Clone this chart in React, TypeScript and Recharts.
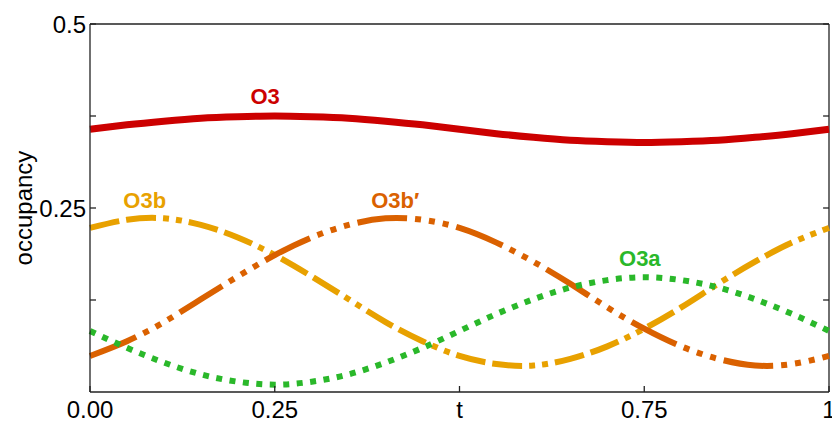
import { LineChart, Line, XAxis, YAxis, ReferenceDot, ReferenceLine } from 'recharts'

const T = [0, 0.05, 0.1, 0.15, 0.2, 0.25, 0.3, 0.35, 0.4, 0.45, 0.5, 0.55, 0.6, 0.65, 0.7, 0.75, 0.8, 0.85, 0.9, 0.95, 1]
const O3 = [0.357, 0.363, 0.368, 0.372, 0.374, 0.375, 0.374, 0.372, 0.368, 0.363, 0.357, 0.351, 0.346, 0.342, 0.34, 0.339, 0.34, 0.342, 0.346, 0.351, 0.357]
const O3B = [0.223, 0.234, 0.236, 0.227, 0.21, 0.186, 0.157, 0.126, 0.095, 0.069, 0.049, 0.038, 0.036, 0.045, 0.062, 0.086, 0.115, 0.147, 0.177, 0.203, 0.223]
const O3B_PRIME = [0.049, 0.069, 0.095, 0.126, 0.157, 0.186, 0.21, 0.227, 0.236, 0.234, 0.223, 0.203, 0.177, 0.147, 0.115, 0.086, 0.062, 0.045, 0.036, 0.038, 0.049]
const O3A = [0.083, 0.06, 0.04, 0.024, 0.014, 0.01, 0.014, 0.024, 0.04, 0.06, 0.083, 0.106, 0.126, 0.142, 0.152, 0.156, 0.152, 0.142, 0.126, 0.106, 0.083]

const X_TICKS = [0, 0.25, 0.5, 0.75, 1]
const X_TICK_LABELS = ['0.00', '0.25', 't', '0.75', '1']
const Y_TICKS = [0.125, 0.25, 0.375, 0.5]
const Y_TICK_LABELS = ['', '0.25', '', '0.5']

const data = T.map((t, i) => ({ t, o3: O3[i], o3b: O3B[i], o3bp: O3B_PRIME[i], o3a: O3A[i] }))

const FRAME = '#222'
const RED = '#cc0000'
const GOLD = '#e8a100'
const ORANGE = '#da6100'
const GREEN = '#2ab82a'

// inward tick length on the right frame, in t units (about 6px)
const RIGHT_TICK = 0.008

const tickText = { fill: '#000', fontSize: 24 }

function seriesLabel(value: string, fill: string) {
  return { value, position: 'center' as const, fill, fontSize: 22, fontWeight: 'bold' }
}

export default function App() {
  return (
    <div style={{ position: 'absolute', left: 0, top: 0, fontFamily: '"Liberation Sans", Arial, sans-serif' }}>
      <LineChart width={832} height={423} data={data} margin={{ top: 24, right: 3, left: 0, bottom: 0 }}>
        <XAxis
          dataKey="t"
          type="number"
          domain={[0, 1]}
          ticks={X_TICKS}
          tickFormatter={(v: number) => X_TICK_LABELS[X_TICKS.indexOf(v)] ?? ''}
          tick={tickText}
          tickSize={-6}
          tickMargin={15}
          height={31}
          stroke={FRAME}
          strokeWidth={1.3}
          interval={0}
        />
        <YAxis
          type="number"
          domain={[0, 0.5]}
          ticks={Y_TICKS}
          tickFormatter={(v: number) => Y_TICK_LABELS[Y_TICKS.indexOf(v)] ?? ''}
          tick={tickText}
          tickSize={-6}
          tickMargin={10}
          width={90}
          stroke={FRAME}
          strokeWidth={1.3}
          interval={0}
          label={{ value: 'occupancy', angle: -90, position: 'insideLeft', offset: 23, fill: '#000', fontSize: 24, style: { textAnchor: 'middle' } }}
        />
        {/* top and right sides of the frame */}
        <ReferenceLine y={0.5} stroke={FRAME} strokeWidth={1.3} />
        <ReferenceLine x={1} stroke={FRAME} strokeWidth={1.3} />
        {Y_TICKS.map((v) => (
          <ReferenceLine key={v} segment={[{ x: 1 - RIGHT_TICK, y: v }, { x: 1, y: v }]} stroke={FRAME} strokeWidth={1.3} />
        ))}
        <Line type="natural" dataKey="o3" stroke={RED} strokeWidth={7} dot={false} activeDot={false} isAnimationActive={false} />
        <Line type="natural" dataKey="o3b" stroke={GOLD} strokeWidth={6} strokeDasharray="30 7 30 7 6 7 6 7" dot={false} activeDot={false} isAnimationActive={false} />
        <Line type="natural" dataKey="o3bp" stroke={ORANGE} strokeWidth={6} strokeDasharray="50 8 6 8 6 8 6 8" dot={false} activeDot={false} isAnimationActive={false} />
        <Line type="natural" dataKey="o3a" stroke={GREEN} strokeWidth={6} strokeDasharray="6 7.5" dot={false} activeDot={false} isAnimationActive={false} />
        <ReferenceDot x={0.237} y={0.402} r={0} ifOverflow="visible" label={seriesLabel('O3', RED)} />
        <ReferenceDot x={0.074} y={0.261} r={0} ifOverflow="visible" label={seriesLabel('O3b', GOLD)} />
        <ReferenceDot x={0.413} y={0.261} r={0} ifOverflow="visible" label={seriesLabel('O3b′', ORANGE)} />
        <ReferenceDot x={0.744} y={0.182} r={0} ifOverflow="visible" label={seriesLabel('O3a', GREEN)} />
      </LineChart>
    </div>
  )
}
